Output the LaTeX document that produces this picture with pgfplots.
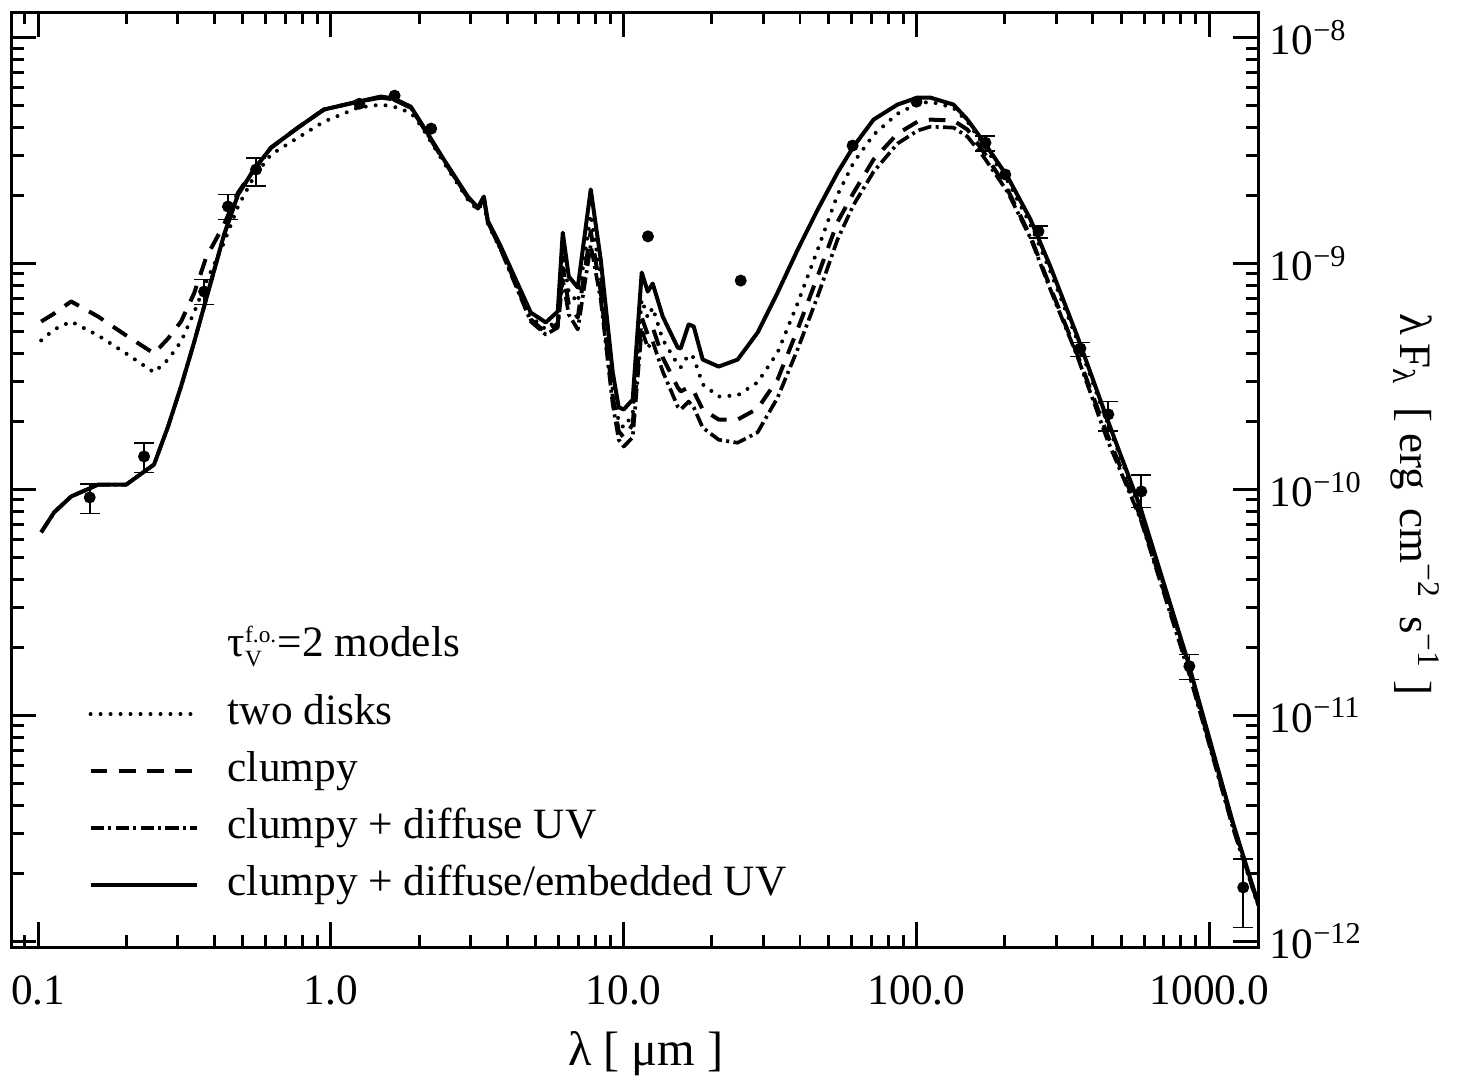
\documentclass[border=0pt]{standalone}
\usepackage{fontspec}
\setmainfont{Liberation Serif}
\usepackage{pgfplots}
\usepackage{pgfplotstable}
\pgfplotsset{compat=1.18}
\newcommand\fs{\fontsize{13}{15.6}\selectfont}
\newcommand\fl{\fontsize{14.5}{17.4}\selectfont}
\newcommand\fy{\fontsize{13.5}{16.2}\selectfont}

\pgfplotstableread{
x y
0.1024 6.46e-11
0.1134 7.92e-11
0.1296 9.31e-11
0.1602 1.05e-10
0.1997 1.05e-10
0.2488 1.29e-10
0.2778 1.90e-10
0.3077 2.86e-10
0.3407 4.47e-10
0.3744 6.93e-10
0.4313 1.34e-9
0.4815 2.02e-9
0.5461 2.61e-9
0.6241 3.26e-9
0.7716 4.00e-9
0.9465 4.81e-9
1.236 5.21e-9
1.481 5.49e-9
1.641 5.38e-9
1.875 4.95e-9
2.029 4.21e-9
2.430 2.89e-9
2.935 1.98e-9
3.175 1.77e-9
3.328 1.98e-9
3.434 1.55e-9
3.804 1.19e-9
4.815 6.07e-10
5.418 5.49e-10
5.953 6.14e-10
6.192 1.37e-9
6.491 8.77e-10
6.967 7.84e-10
7.716 2.13e-9
8.347 1.04e-9
9.172 3.30e-10
9.615 2.31e-10
10.00 2.26e-10
10.73 2.50e-10
11.52 9.13e-10
12.08 7.52e-10
12.56 8.16e-10
13.59 5.83e-10
15.29 4.25e-10
15.65 4.21e-10
16.67 5.38e-10
17.34 5.27e-10
18.61 3.76e-10
21.10 3.50e-10
24.50 3.76e-10
28.66 4.95e-10
33.54 7.44e-10
39.25 1.15e-9
45.93 1.73e-9
53.75 2.53e-9
60.96 3.30e-9
71.33 4.34e-9
86.13 5.06e-9
100.8 5.43e-9
111.6 5.43e-9
133.7 5.06e-9
149.3 4.34e-9
169.3 3.47e-9
204.5 2.43e-9
245.0 1.57e-9
286.6 9.70e-10
354.4 4.76e-10
448.6 2.04e-10
581.5 8.33e-11
841.2 1.77e-11
1208 3.30e-12
1470 1.46e-12
}\solidtab

\pgfplotstableread{
x y
0.1024 4.57e-10
0.1134 5.11e-10
0.1296 5.54e-10
0.1602 4.81e-10
0.1997 4.00e-10
0.2488 3.30e-10
0.2778 3.76e-10
0.3077 4.52e-10
0.3407 6.07e-10
0.3744 8.25e-10
0.4313 1.24e-9
0.4815 1.79e-9
0.5461 2.43e-9
0.6241 3.04e-9
0.7716 3.61e-9
0.9465 4.25e-9
1.236 4.90e-9
1.481 5.06e-9
1.641 4.95e-9
1.875 4.66e-9
2.029 4.08e-9
2.430 2.80e-9
2.935 1.92e-9
3.175 1.72e-9
3.328 1.90e-9
3.434 1.50e-9
3.804 1.15e-9
4.815 5.83e-10
5.418 5.11e-10
5.953 5.66e-10
6.192 1.10e-9
6.491 7.52e-10
6.967 6.73e-10
7.716 1.65e-9
8.347 8.77e-10
9.172 2.77e-10
9.615 2.00e-10
10.00 1.88e-10
10.73 2.15e-10
11.52 6.93e-10
12.08 5.77e-10
12.56 6.39e-10
13.59 4.61e-10
15.29 3.58e-10
15.65 3.47e-10
16.67 3.96e-10
17.34 3.84e-10
18.61 2.92e-10
21.10 2.58e-10
24.50 2.61e-10
28.66 2.98e-10
33.54 4.04e-10
39.25 6.66e-10
45.93 1.15e-9
53.75 2.02e-9
60.96 2.80e-9
71.33 3.72e-9
86.13 4.61e-9
100.8 5.11e-9
111.6 5.21e-9
133.7 4.90e-9
149.3 4.25e-9
169.3 3.36e-9
204.5 2.33e-9
245.0 1.49e-9
286.6 9.22e-10
354.4 4.57e-10
448.6 1.98e-10
581.5 8.08e-11
841.2 1.73e-11
1208 3.23e-12
1470 1.43e-12
}\dottab

\pgfplotstableread{
x y
0.1024 5.54e-10
0.1134 6.01e-10
0.1296 6.80e-10
0.1602 5.83e-10
0.1997 4.81e-10
0.2488 4.00e-10
0.2778 4.66e-10
0.3077 5.54e-10
0.3407 7.37e-10
0.3744 1.06e-9
0.4313 1.49e-9
0.4815 2.06e-9
0.5461 2.61e-9
0.6241 3.26e-9
0.7716 4.00e-9
0.9465 4.81e-9
1.236 5.21e-9
1.481 5.43e-9
1.641 5.32e-9
1.875 4.90e-9
2.029 4.17e-9
2.430 2.86e-9
2.935 1.96e-9
3.175 1.75e-9
3.328 1.96e-9
3.434 1.53e-9
3.804 1.17e-9
4.815 5.66e-10
5.418 4.95e-10
5.953 5.43e-10
6.192 9.60e-10
6.491 6.59e-10
6.967 5.77e-10
7.716 1.39e-9
8.347 7.52e-10
9.172 2.58e-10
9.615 1.81e-10
10.00 1.70e-10
10.73 1.94e-10
11.52 5.77e-10
12.08 4.85e-10
12.56 5.21e-10
13.59 3.84e-10
15.29 2.83e-10
15.65 2.72e-10
16.67 2.83e-10
17.34 2.72e-10
18.61 2.26e-10
21.10 2.04e-10
24.50 2.04e-10
28.66 2.28e-10
33.54 3.07e-10
39.25 5.11e-10
45.93 8.77e-10
53.75 1.53e-9
60.96 2.06e-9
71.33 2.89e-9
86.13 3.76e-9
100.8 4.25e-9
111.6 4.34e-9
133.7 4.30e-9
149.3 3.92e-9
169.3 3.13e-9
204.5 2.13e-9
245.0 1.32e-9
286.6 7.84e-10
354.4 3.96e-10
448.6 1.75e-10
581.5 7.60e-11
841.2 1.68e-11
1208 3.20e-12
1470 1.46e-12
}\dashtab

\pgfplotstableread{
x y
0.1024 6.46e-11
0.1134 7.92e-11
0.1296 9.31e-11
0.1602 1.05e-10
0.1997 1.05e-10
0.2488 1.29e-10
0.2778 1.90e-10
0.3077 2.86e-10
0.3407 4.47e-10
0.3744 6.93e-10
0.4313 1.34e-9
0.4815 2.02e-9
0.5461 2.61e-9
0.6241 3.26e-9
0.7716 4.00e-9
0.9465 4.81e-9
1.236 5.21e-9
1.481 5.43e-9
1.641 5.32e-9
1.875 4.90e-9
2.029 4.17e-9
2.430 2.86e-9
2.935 1.96e-9
3.175 1.75e-9
3.328 1.94e-9
3.434 1.53e-9
3.804 1.15e-9
4.815 5.54e-10
5.418 4.85e-10
5.953 5.21e-10
6.192 8.50e-10
6.491 5.95e-10
6.967 5.11e-10
7.716 1.21e-9
8.347 6.93e-10
9.172 2.38e-10
9.615 1.66e-10
10.00 1.55e-10
10.73 1.70e-10
11.52 5.11e-10
12.08 4.25e-10
12.56 4.52e-10
13.59 3.33e-10
15.29 2.33e-10
15.65 2.26e-10
16.67 2.45e-10
17.34 2.31e-10
18.61 1.88e-10
21.10 1.66e-10
24.50 1.61e-10
28.66 1.79e-10
33.54 2.55e-10
39.25 4.17e-10
45.93 7.15e-10
53.75 1.28e-9
60.96 1.82e-9
71.33 2.55e-9
86.13 3.40e-9
100.8 3.88e-9
111.6 4.04e-9
133.7 4.00e-9
149.3 3.65e-9
169.3 2.98e-9
204.5 2.08e-9
245.0 1.30e-9
286.6 7.68e-10
354.4 3.88e-10
448.6 1.66e-10
581.5 7.44e-11
841.2 1.63e-11
1208 3.13e-12
1470 1.44e-12
}\dashdottab

\pgfplotstableread{
x y ep em
0.150 9.22e-11 1.38e-11 1.39e-11
0.230 1.40e-10 2.1e-11 2.1e-11
0.369 7.52e-10 9.7e-11 9.3e-11
0.445 1.79e-9 2.3e-10 2.2e-10
0.555 2.61e-9 3.3e-10 4.0e-10
172 3.43e-9 2.5e-10 2.7e-10
261 1.39e-9 8e-11 9e-11
363 4.21e-10 2.6e-11 3.3e-11
452 2.15e-10 3.0e-11 3.4e-11
586 9.8e-11 1.8e-11 1.48e-11
855 1.65e-11 2.1e-12 2.1e-12
1306 1.73e-12 5.8e-13 5.8e-13
}\errtab

\pgfplotstableread{
x y
1.25 5.10e-9
1.65 5.54e-9
2.2 3.96e-9
12.1 1.32e-9
25.1 8.41e-10
60.5 3.33e-9
100 5.21e-9
201 2.48e-9
}\pttab

\begin{document}
\begin{tikzpicture}
\begin{axis}[
  scale only axis, width=374.4pt, height=280.8pt,
  xmode=log, ymode=log,
  xmin=0.0809, xmax=1469, ymin=9.4e-13, ymax=1.30e-8,
  axis line style={line width=0.9pt},
  tick align=inside, xtick pos=both, ytick pos=both,
  yticklabel pos=right,
  major tick length=7.5pt, minor tick length=3.75pt,
  every tick/.style={line width=0.9pt, black},
  xtick={0.1,1,10,100,1000},
  xticklabels={0.1,1.0,10.0,100.0,1000.0},
  minor xtick={0.09,0.2,0.3,0.4,0.5,0.6,0.7,0.8,0.9,2,3,4,5,6,7,8,9,20,30,40,50,60,70,80,90,200,300,400,500,600,700,800,900},
  ytick={1e-12,1e-11,1e-10,1e-9,1e-8},
  yticklabels={10\textsuperscript{−12},10\textsuperscript{−11},10\textsuperscript{−10},10\textsuperscript{−9},10\textsuperscript{−8}},
  minor ytick={2e-12,3e-12,4e-12,5e-12,6e-12,7e-12,8e-12,9e-12,2e-11,3e-11,4e-11,5e-11,6e-11,7e-11,8e-11,9e-11,2e-10,3e-10,4e-10,5e-10,6e-10,7e-10,8e-10,9e-10,2e-9,3e-9,4e-9,5e-9,6e-9,7e-9,8e-9,9e-9},
  tick label style={font=\fs},
  xticklabel style={yshift=-5pt},
  xlabel={λ [ μm ]},
  ylabel={λ\,F\textsubscript{λ}\enspace[ erg\hspace{0.4em}cm\textsuperscript{−2}\hspace{0.4em}s\textsuperscript{−1} ]},
  every axis x label/.style={at={(axis description cs:0.509,-0.114)}, anchor=center, font=\fl},
  every axis y label/.style={at={(axis description cs:1.1258,0.4733)}, rotate=-90, anchor=center, font=\fy},
  legend cell align=left,
  legend image code/.code={\draw[#1] (0pt,0pt) -- (32pt,0pt);},
  legend style={at={(rel axis cs:0.0615,0.345)}, anchor=north west, draw=none, fill=none,
    font=\fs, inner sep=0pt, row sep=4.6pt,
    nodes={inner sep=0pt, text height=9.5pt, text depth=3pt},
    /tikz/every odd column/.append style={column sep=8.6pt}},
  every axis plot/.append style={line join=round},
]
\addlegendimage{empty legend}
\addlegendentry[text depth=6.3pt]{$\mbox{τ}^{\mbox{\scriptsize f.o.}}_{\mbox{\scriptsize V}}$=2 models}

\addplot[black, line width=1.2pt, line cap=round, dash pattern=on 0pt off 3pt] table[x=x,y=y] {\dottab};
\addlegendentry{two disks}
\addplot[black, line width=1.2pt, dash pattern=on 5pt off 3.5pt] table[x=x,y=y] {\dashtab};
\addlegendentry{clumpy}
\addplot[black, line width=1.1pt, dash pattern=on 4pt off 1.3pt on 0.9pt off 1.3pt] table[x=x,y=y] {\dashdottab};
\addlegendentry{clumpy + diffuse UV}
\addplot[black, line width=1.2pt] table[x=x,y=y] {\solidtab};
\addlegendentry{clumpy + diffuse/embedded UV}

\addplot[forget plot, only marks, black, mark=*, mark size=1.6pt,
  error bars/.cd, y dir=both, y explicit,
  error bar style={line width=0.5pt, black},
  error mark options={line width=0.5pt, mark size=3pt, black, rotate=90}]
  table[x=x, y=y, y error plus=ep, y error minus=em] {\errtab};
\addplot[forget plot, only marks, black, mark=*, mark size=1.6pt] table[x=x,y=y] {\pttab};
\end{axis}
\path ([shift={(-3pt,-39pt)}]current axis.south west) rectangle ([shift={(60.9pt,3.6pt)}]current axis.north east);
\end{tikzpicture}
\end{document}
